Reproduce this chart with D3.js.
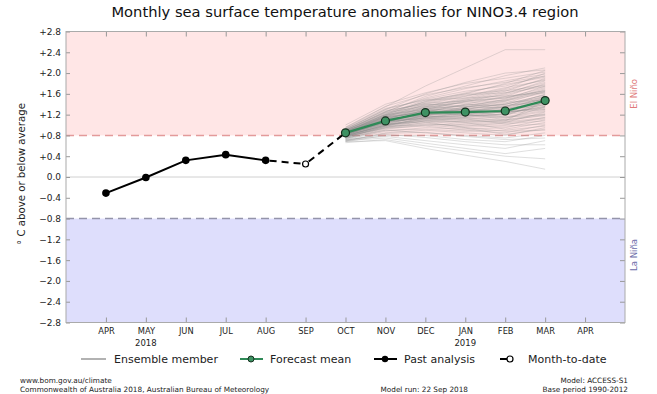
<!DOCTYPE html>
<html><head><meta charset="utf-8">
<script src="https://cdn.jsdelivr.net/npm/d3@7"></script>
<style>
html,body{margin:0;padding:0;background:#fff;}
svg{display:block;font-family:"DejaVu Sans",sans-serif;}
</style></head>
<body>
<svg id="c" width="657" height="394"></svg>
<script>
// ---------- data ----------
const months = ["APR","MAY","JUN","JUL","AUG","SEP","OCT","NOV","DEC","JAN","FEB","MAR","APR"];
const yearLabels = [{i:1, label:"2018"}, {i:9, label:"2019"}];
const yTicks = [-2.8,-2.4,-2.0,-1.6,-1.2,-0.8,-0.4,0.0,0.4,0.8,1.2,1.6,2.0,2.4,2.8];
const pastIdx = [0,1,2,3,4];
const pastValues = [-0.31,-0.01,0.32,0.43,0.32];
const mtdIdx = 5;
const mtdValue = 0.25;
const fcIdx = [6,7,8,9,10,11];
const forecastMean = [0.85,1.08,1.24,1.25,1.27,1.47];
const elNinoThreshold = 0.8;
const laNinaThreshold = -0.8;
// ensemble members, values for OCT..MAR
const ensemble = [
[0.95,1.35,1.75,2.10,2.45,2.45],
[0.90,1.25,1.55,1.75,1.95,2.10],
[0.88,1.20,1.45,1.60,1.80,2.05],
[0.85,1.15,1.40,1.55,1.70,2.00],
[0.92,1.30,1.50,1.65,1.75,1.95],
[0.80,1.10,1.35,1.50,1.65,1.90],
[0.87,1.18,1.30,1.45,1.60,1.85],
[0.83,1.05,1.25,1.40,1.55,1.80],
[0.78,1.00,1.20,1.35,1.50,1.75],
[0.90,1.22,1.38,1.42,1.48,1.70],
[0.86,1.12,1.28,1.30,1.42,1.65],
[0.82,1.08,1.22,1.25,1.35,1.60],
[0.76,0.98,1.15,1.22,1.30,1.55],
[0.88,1.14,1.26,1.20,1.28,1.52],
[0.84,1.06,1.18,1.15,1.22,1.50],
[0.79,1.02,1.10,1.12,1.18,1.45],
[0.93,1.28,1.40,1.36,1.32,1.42],
[0.81,1.04,1.16,1.18,1.20,1.40],
[0.77,0.95,1.05,1.08,1.12,1.35],
[0.85,1.10,1.20,1.24,1.25,1.30],
[0.74,0.92,1.00,1.02,1.05,1.25],
[0.89,1.16,1.24,1.28,1.15,1.20],
[0.80,1.00,1.08,1.00,1.00,1.15],
[0.72,0.88,0.95,0.92,0.95,1.10],
[0.86,1.08,1.12,1.05,0.92,1.05],
[0.78,0.94,0.98,0.90,0.85,1.00],
[0.70,0.85,0.90,0.85,0.80,0.95],
[0.83,1.02,1.06,0.95,0.88,0.90],
[0.75,0.90,0.85,0.80,0.75,0.85],
[0.68,0.80,0.80,0.72,0.68,0.80],
[0.72,0.78,0.70,0.62,0.55,0.70],
[0.70,0.75,0.65,0.55,0.45,0.55],
[0.66,0.72,0.60,0.50,0.40,0.35],
[0.68,0.70,0.55,0.42,0.30,0.15],
[0.91,1.26,1.52,1.70,1.85,1.98],
[0.87,1.20,1.46,1.62,1.78,1.92],
[0.84,1.16,1.36,1.52,1.68,1.88],
[0.89,1.24,1.44,1.58,1.62,1.82],
[0.82,1.12,1.32,1.48,1.58,1.78],
[0.86,1.14,1.34,1.44,1.52,1.72],
[0.80,1.06,1.26,1.38,1.46,1.68],
[0.94,1.32,1.48,1.52,1.56,1.62],
[0.78,1.02,1.18,1.32,1.40,1.58],
[0.85,1.10,1.22,1.34,1.44,1.48],
[0.88,1.18,1.32,1.26,1.38,1.44],
[0.81,1.06,1.20,1.20,1.30,1.38],
[0.76,0.98,1.12,1.16,1.26,1.32],
[0.84,1.08,1.16,1.10,1.16,1.28],
[0.79,1.00,1.10,1.06,1.10,1.22],
[0.90,1.20,1.30,1.22,1.10,1.18],
[0.74,0.94,1.02,0.98,1.04,1.12],
[0.83,1.04,1.14,1.12,1.02,1.08],
[0.77,0.96,1.04,0.96,0.98,1.02],
[0.87,1.12,1.18,1.14,1.08,1.46],
[0.73,0.90,0.92,0.88,0.90,0.98],
[0.80,0.98,1.00,0.94,0.82,0.92],
[0.69,0.84,0.86,0.78,0.72,0.75],
[0.71,0.82,0.76,0.68,0.62,0.62],
[1.00,1.40,1.62,1.80,1.90,2.02],
[0.96,1.36,1.58,1.72,1.82,1.94],
[0.92,1.30,1.60,1.82,2.00,2.06],
[0.82,1.18,1.42,1.56,1.72,1.86],
[0.86,1.22,1.48,1.60,1.66,1.76],
[0.78,1.04,1.30,1.46,1.54,1.66],
[0.84,1.12,1.28,1.40,1.36,1.56],
[0.88,1.16,1.22,1.32,1.34,1.50],
[0.80,1.08,1.24,1.30,1.28,1.42],
[0.75,0.96,1.08,1.14,1.22,1.36],
[0.90,1.24,1.36,1.30,1.24,1.34],
[0.82,1.06,1.14,1.20,1.14,1.26],
[0.86,1.18,1.38,1.48,1.62,1.74],
[0.83,1.10,1.30,1.38,1.48,1.64],
[0.88,1.20,1.34,1.36,1.40,1.58],
[0.80,1.04,1.18,1.26,1.36,1.52],
[0.85,1.14,1.26,1.28,1.30,1.46],
[0.79,1.00,1.12,1.18,1.26,1.40],
[0.87,1.16,1.28,1.34,1.46,1.62],
[0.81,1.08,1.20,1.22,1.24,1.36],
[0.84,1.10,1.24,1.18,1.20,1.30],
[0.90,1.26,1.42,1.46,1.52,1.66],
[0.77,0.98,1.08,1.04,1.08,1.20],
[0.83,1.06,1.14,1.08,1.06,1.14],
[0.86,1.12,1.20,1.30,1.40,1.54],
[0.78,1.00,1.14,1.24,1.34,1.50]
];

// ---------- layout ----------
const svg = d3.select("#c");
const L = 66, R = 625, T = 31.5, B = 322.5;
const x = d3.scaleLinear().domain([-1, 13]).range([L, R]);
const y = d3.scaleLinear().domain([-2.8, 2.8]).range([B, T]);

// title
svg.append("text").attr("x", 345).attr("y", 17).attr("text-anchor", "middle")
  .attr("font-size", 14.7).attr("fill", "#111")
  .text("Monthly sea surface temperature anomalies for NINO3.4 region");

// regions
svg.append("rect").attr("x", L).attr("y", y(2.8)).attr("width", R - L)
  .attr("height", y(elNinoThreshold) - y(2.8)).attr("fill", "#ffe6e6");
svg.append("rect").attr("x", L).attr("y", y(laNinaThreshold)).attr("width", R - L)
  .attr("height", y(-2.8) - y(laNinaThreshold)).attr("fill", "#dedefc");

// zero line
svg.append("line").attr("x1", L).attr("x2", R).attr("y1", y(0)).attr("y2", y(0))
  .attr("stroke", "#d0d0d0").attr("stroke-width", 1);

// threshold dashed lines
svg.append("line").attr("x1", L).attr("x2", R).attr("y1", y(elNinoThreshold)).attr("y2", y(elNinoThreshold))
  .attr("stroke", "#e39a9a").attr("stroke-width", 1.5).attr("stroke-dasharray", "8,5");
svg.append("line").attr("x1", L).attr("x2", R).attr("y1", y(laNinaThreshold)).attr("y2", y(laNinaThreshold))
  .attr("stroke", "#9494aa").attr("stroke-width", 1.5).attr("stroke-dasharray", "8,5");

// axes
const fmt = d => Math.abs(d) < 1e-9 ? "0.0" : d3.format("+.1f")(d);
const gx = svg.append("g").attr("transform", `translate(0,${B})`)
  .call(d3.axisBottom(x).tickValues(d3.range(months.length)).tickFormat(i => months[i])
    .tickSizeInner(-5).tickSizeOuter(0).tickPadding(6));
const gxt = svg.append("g").attr("transform", `translate(0,${T})`)
  .call(d3.axisTop(x).tickValues(d3.range(months.length)).tickFormat("")
    .tickSizeInner(-5).tickSizeOuter(0));
const gy = svg.append("g").attr("transform", `translate(${L},0)`)
  .call(d3.axisLeft(y).tickValues(yTicks).tickFormat(fmt).tickSizeInner(-4).tickSizeOuter(0).tickPadding(5));
const gyr = svg.append("g").attr("transform", `translate(${R},0)`)
  .call(d3.axisRight(y).tickValues(yTicks).tickFormat("").tickSizeInner(-5).tickSizeOuter(0));
[gx, gxt, gy, gyr].forEach(g => {
  g.select(".domain").remove();
  g.selectAll(".tick line").attr("stroke", "#999");
  g.selectAll(".tick text").attr("fill", "#222").attr("font-family", "DejaVu Sans");
});
gx.selectAll(".tick text").attr("font-size", 8.3);
gy.selectAll(".tick text").attr("font-size", 9);

// year labels
svg.selectAll(".yr").data(yearLabels).enter().append("text")
  .attr("x", d => x(d.i)).attr("y", 346).attr("text-anchor", "middle")
  .attr("font-size", 8.5).attr("fill", "#222").text(d => d.label);

// frame
svg.append("rect").attr("x", L).attr("y", T).attr("width", R - L).attr("height", B - T)
  .attr("fill", "none").attr("stroke", "#aaa").attr("stroke-width", 1);

// ensemble
const lineFc = d3.line().x((d, i) => x(fcIdx[i])).y(d => y(d));
svg.append("g").selectAll("path").data(ensemble).enter().append("path")
  .attr("d", lineFc).attr("fill", "none")
  .attr("stroke", "rgba(140,140,140,0.28)").attr("stroke-width", 1);

// past analysis
const pastPts = pastIdx.map((i, k) => [i, pastValues[k]]);
const ln = d3.line().x(d => x(d[0])).y(d => y(d[1]));
svg.append("path").attr("d", ln(pastPts)).attr("fill", "none")
  .attr("stroke", "#000").attr("stroke-width", 2);
const dashPts = [[pastIdx[pastIdx.length-1], pastValues[pastValues.length-1]], [mtdIdx, mtdValue], [fcIdx[0], forecastMean[0]]];
svg.append("path").attr("d", ln(dashPts.slice(0,2))).attr("fill", "none")
  .attr("stroke", "#000").attr("stroke-width", 2).attr("stroke-dasharray", "7,5").attr("stroke-dashoffset", -4);
svg.append("path").attr("d", ln(dashPts.slice(1))).attr("fill", "none")
  .attr("stroke", "#000").attr("stroke-width", 2).attr("stroke-dasharray", "7,5").attr("stroke-dashoffset", -4);
svg.selectAll(".pp").data(pastPts).enter().append("circle")
  .attr("cx", d => x(d[0])).attr("cy", d => y(d[1])).attr("r", 3.8).attr("fill", "#000");
svg.append("circle").attr("cx", x(mtdIdx)).attr("cy", y(mtdValue)).attr("r", 3)
  .attr("fill", "#fff").attr("stroke", "#000").attr("stroke-width", 1.2);

// forecast mean
svg.append("path").attr("d", lineFc(forecastMean)).attr("fill", "none")
  .attr("stroke", "#2f8a57").attr("stroke-width", 2.2);
svg.selectAll(".fm").data(forecastMean).enter().append("circle")
  .attr("cx", (d, i) => x(fcIdx[i])).attr("cy", d => y(d)).attr("r", 4)
  .attr("fill", "#3e9263").attr("stroke", "#17301f").attr("stroke-width", 1.2);

// y label
svg.append("text").attr("transform", `translate(25,174) rotate(-90)`)
  .attr("text-anchor", "middle").attr("font-size", 10.2).attr("fill", "#222")
  .text("° C above or below average");

// right labels
svg.append("text").attr("transform", `translate(637,${y(1.6)}) rotate(-90)`)
  .attr("text-anchor", "middle").attr("font-size", 8.5).attr("fill", "#e07a7a").text("El Niño");
svg.append("text").attr("transform", `translate(637,${y(-1.5)}) rotate(-90)`)
  .attr("text-anchor", "middle").attr("font-size", 8.5).attr("fill", "#6a6aa8").text("La Niña");

// legend
const lg = svg.append("g").attr("font-size", 11).attr("fill", "#222");
const ly = 359;
lg.append("line").attr("x1", 81).attr("x2", 106).attr("y1", ly).attr("y2", ly).attr("stroke", "#999").attr("stroke-width", 1.5);
lg.append("text").attr("x", 114).attr("y", ly + 4).text("Ensemble member");
lg.append("line").attr("x1", 240).attr("x2", 263).attr("y1", ly).attr("y2", ly).attr("stroke", "#2f8a57").attr("stroke-width", 2);
lg.append("circle").attr("cx", 251).attr("cy", ly).attr("r", 3).attr("fill", "#3e9263").attr("stroke", "#17301f").attr("stroke-width", 1);
lg.append("text").attr("x", 270).attr("y", ly + 4).text("Forecast mean");
lg.append("line").attr("x1", 374).attr("x2", 397).attr("y1", ly).attr("y2", ly).attr("stroke", "#000").attr("stroke-width", 2);
lg.append("circle").attr("cx", 385).attr("cy", ly).attr("r", 3.2).attr("fill", "#000");
lg.append("text").attr("x", 404).attr("y", ly + 4).text("Past analysis");
lg.append("line").attr("x1", 500).attr("x2", 507).attr("y1", ly).attr("y2", ly).attr("stroke", "#000").attr("stroke-width", 2);
lg.append("circle").attr("cx", 510).attr("cy", ly).attr("r", 3).attr("fill", "#fff").attr("stroke", "#000").attr("stroke-width", 1.2);
lg.append("text").attr("x", 528).attr("y", ly + 4).text("Month-to-date");

// footer
const ft = svg.append("g").attr("font-size", 7.3).attr("fill", "#222");
ft.append("text").attr("x", 20).attr("y", 383).text("www.bom.gov.au/climate");
ft.append("text").attr("x", 20).attr("y", 392).text("Commonwealth of Australia 2018, Australian Bureau of Meteorology");
ft.append("text").attr("x", 468).attr("y", 392).attr("text-anchor", "end").text("Model run: 22 Sep 2018");
ft.append("text").attr("x", 628).attr("y", 383).attr("text-anchor", "end").text("Model: ACCESS-S1");
ft.append("text").attr("x", 628).attr("y", 392).attr("text-anchor", "end").text("Base period 1990-2012");
</script>
</body></html>
